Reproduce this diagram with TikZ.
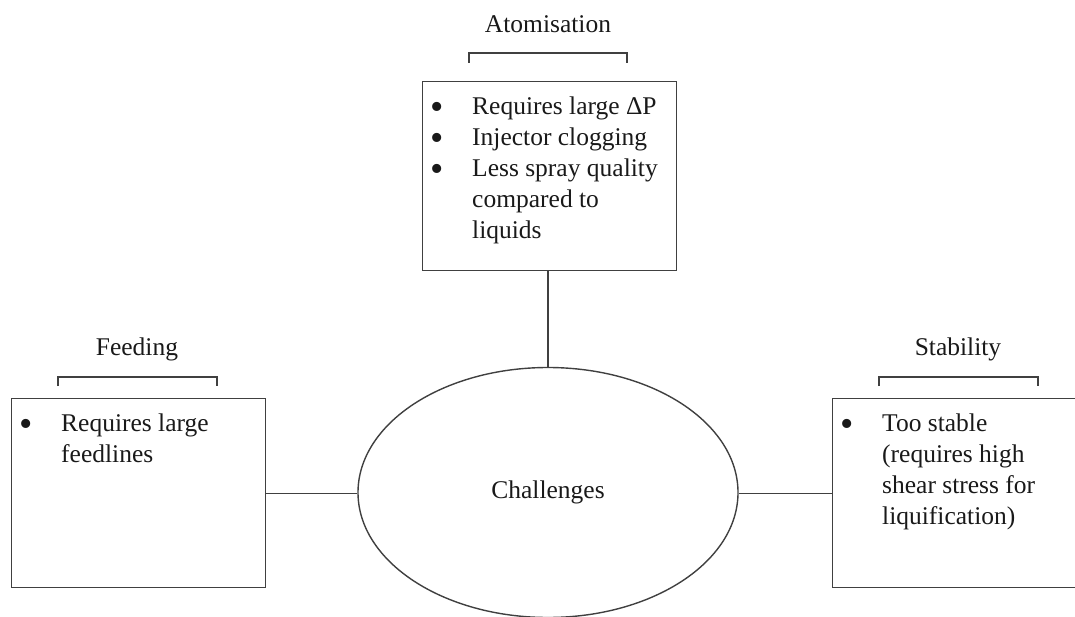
\documentclass[tikz,border=0pt]{standalone}
\usepackage{fontspec}
\setmainfont{Liberation Serif}
\usetikzlibrary{shapes.geometric}

\tikzset{
  box/.style={draw=black!75, line width=1.4pt, minimum width=254pt, minimum height=189pt, anchor=north west, inner sep=0pt},
  list/.style={anchor=north west, inner sep=0pt, align=left, text=black!90, font=\fontsize{25.5}{31}\selectfont},
  heading/.style={anchor=base, inner sep=0pt, text=black!90, font=\fontsize{25.5}{31}\selectfont},
  bracket/.style={draw=black!75, line width=1.4pt},
  link/.style={draw=black!75, line width=1.4pt},
}
\newcommand{\bul}{\smash{\raisebox{-5pt}{\fontsize{38}{31}\selectfont\textbullet}}}

\begin{document}
\begin{tikzpicture}[x=1pt,y=-1pt]
        \clip (0,0) rectangle (1075,617);
        % the three boxes
        \node[box] (atom) at (422,81) {};
        \node[box] (feed) at (11,398) {};
        \node[box] (stab) at (832,398) {};
        % centre
        \node[ellipse, draw=black!75, line width=1.4pt, minimum width=380pt, minimum height=250pt, inner sep=0pt, text=black!90, font=\fontsize{25.5}{31}\selectfont] (chal) at (548,492.5) {Challenges};
        % lists
        \node[list] (atomlist) at (430,93) {\begin{tabular}{@{}p{42pt}@{}l@{}}
            \bul & Requires large ΔP\\
            \bul & Injector clogging\\
            \bul & Less spray quality\\
                 & compared to\\
                 & liquids
          \end{tabular}};
        \node[list] (feedlist) at (19,410) {\begin{tabular}{@{}p{42pt}@{}l@{}}
            \bul & Requires large\\
                 & feedlines
          \end{tabular}};
        \node[list] (stablist) at (840,410) {\begin{tabular}{@{}p{42pt}@{}l@{}}
            \bul & Too stable\\
                 & (requires high\\
                 & shear stress for\\
                 & liquification)
          \end{tabular}};
        % brackets and headings
        \draw[bracket] (469,63) -- (469,53) -- (627,53) -- (627,63);
        \draw[bracket] (58,386) -- (58,377) -- (217,377) -- (217,386);
        \draw[bracket] (879,386) -- (879,377) -- (1038,377) -- (1038,386);
        \node[heading] (atomhead) at (548,33) {Atomisation};
        \node[heading] (feedhead) at (137,355) {Feeding};
        \node[heading] (stabhead) at (958,355) {Stability};
        % connectors
        \draw[link] (chal.north) -- (chal.north |- atom.south);
        \draw[link] (feed.east) -- (feed.east -| chal.west);
        \draw[link] (stab.west -| chal.east) -- (stab.west);
    \end{tikzpicture}
\end{document}
